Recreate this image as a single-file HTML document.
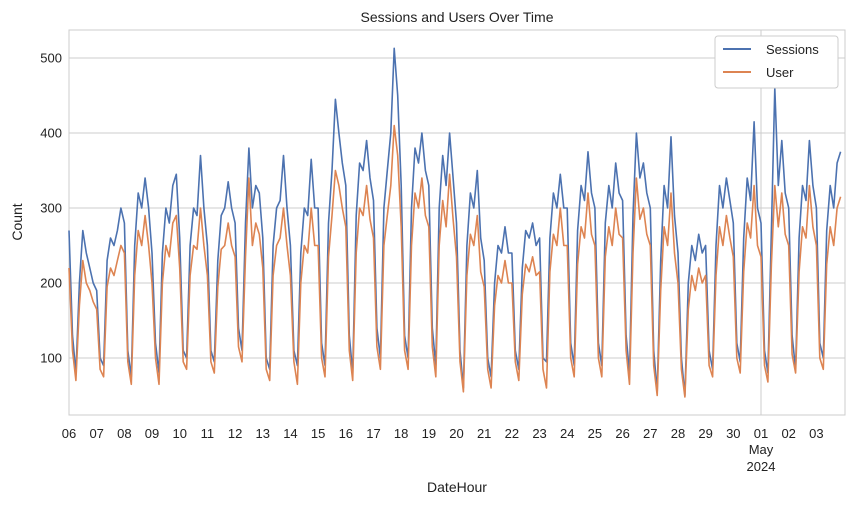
<!DOCTYPE html>
<html><head><meta charset="utf-8"><style>
body{margin:0;background:#fff;}
svg{font-family:"Liberation Sans","DejaVu Sans",sans-serif;}
</style></head><body>
<svg id="chart" width="854" height="505">
<rect x="69" y="30" width="776" height="385" fill="#fff" stroke="#cccccc"/>
<g id="grid"></g><g id="series"></g><g id="ticks"></g>
<text x="457" y="22" text-anchor="middle" font-size="14" fill="#222">Sessions and Users Over Time</text>
<text x="457" y="492" text-anchor="middle" font-size="14" fill="#222">DateHour</text>
<text transform="translate(22,222) rotate(-90)" text-anchor="middle" font-size="14" fill="#222">Count</text>
<g>
<rect x="715" y="36" width="123" height="52" rx="3" fill="#fff" stroke="#cccccc"/>
<line x1="723" y1="49" x2="751" y2="49" stroke="#4c72b0" stroke-width="2"/>
<text x="766" y="54" font-size="13" fill="#222">Sessions</text>
<line x1="723" y1="72" x2="751" y2="72" stroke="#dd8452" stroke-width="2"/>
<text x="766" y="77" font-size="13" fill="#222">User</text>
</g>
</svg>
<script>
const dayLabels=["06","07","08","09","10","11","12","13","14","15","16","17","18","19","20","21","22","23","24","25","26","27","28","29","30","01","02","03"];
const yTicks=[100,200,300,400,500];
const sessions=[
270,130,80,200,270,240,220,200, 190,100,90,230,260,250,270,300,
280,110,75,250,320,300,340,300, 240,120,80,240,300,280,330,345,
260,110,100,250,300,290,370,300, 250,110,95,230,290,300,335,300,
280,140,110,280,380,300,330,320, 260,100,85,250,300,310,370,300,
250,110,90,240,300,290,365,300, 300,120,90,280,350,445,400,360,
330,130,80,290,360,350,390,340, 310,140,100,300,350,400,513,450,
330,130,100,300,380,360,400,350, 330,140,90,300,370,330,400,340,
280,110,60,250,320,300,350,260, 230,100,75,200,250,240,275,240,
240,110,85,220,270,260,280,250, 260,100,95,260,320,300,345,300,
300,120,90,270,330,310,375,320, 300,120,90,280,330,300,360,320,
310,130,80,290,400,340,360,320, 300,110,55,230,330,300,395,290,
240,100,50,200,250,230,265,240, 250,110,85,250,330,300,340,310,
280,120,95,260,340,310,415,300, 280,110,80,270,460,330,390,320,
300,130,85,260,330,310,390,330, 300,120,100,270,330,300,360,375];
const users=[
220,110,70,170,230,200,190,175, 165,85,75,195,220,210,230,250,
240,95,65,210,270,250,290,250, 200,100,65,200,250,235,280,290,
220,95,85,210,250,245,300,250, 210,95,80,195,245,250,280,250,
235,115,95,235,340,250,280,265, 220,85,70,210,250,260,300,250,
210,95,65,200,250,240,300,250, 250,100,75,235,290,350,330,300,
275,110,70,240,300,290,330,285, 260,115,85,250,290,330,410,370,
275,110,85,250,320,300,340,290, 275,115,75,250,310,275,345,285,
235,95,55,210,265,250,290,215, 195,85,60,170,210,200,230,200,
200,95,70,185,225,215,235,210, 215,85,60,215,265,250,300,250,
250,100,75,225,275,260,320,265, 250,100,75,235,275,250,300,265,
260,110,65,240,340,285,300,265, 250,90,50,190,275,250,320,240,
200,85,48,165,210,190,220,200, 210,90,75,210,275,250,290,260,
235,100,80,215,280,260,330,250, 235,90,68,225,330,275,320,265,
250,105,80,215,275,260,330,275, 250,100,85,225,275,250,300,315];
const x0=69,dayW=27.68,stepH=3;
const X=h=>x0+h/24*dayW;
const Y=v=>358-(v-100)*0.75;
const ns="http://www.w3.org/2000/svg";
const grid=document.getElementById('grid'),ticks=document.getElementById('ticks'),ser=document.getElementById('series');
yTicks.forEach(v=>{
 const l=document.createElementNS(ns,'line');
 l.setAttribute('x1',69);l.setAttribute('x2',845);l.setAttribute('y1',Y(v));l.setAttribute('y2',Y(v));
 l.setAttribute('stroke','#cccccc');
 
 
 grid.appendChild(l);
 const t=document.createElementNS(ns,'text');
 t.setAttribute('x',62);t.setAttribute('y',Y(v)+4.5);t.setAttribute('text-anchor','end');t.setAttribute('font-size','13');t.setAttribute('fill','#222');
 t.textContent=v;
 
 
 ticks.appendChild(t);
});
dayLabels.forEach((d,i)=>{
 const x=X(i*24);
 const t=document.createElementNS(ns,'text');
 t.setAttribute('x',x);t.setAttribute('y',438);t.setAttribute('text-anchor','middle');t.setAttribute('font-size','13');t.setAttribute('fill','#222');
 t.textContent=d;
 
 
 ticks.appendChild(t);
 if(d==="01"){
  const l=document.createElementNS(ns,'line');
  l.setAttribute('x1',x);l.setAttribute('x2',x);l.setAttribute('y1',30);l.setAttribute('y2',415);l.setAttribute('stroke','#cccccc');
  
  
  grid.appendChild(l);
  [["May",454],["2024",471]].forEach(([s,yy])=>{
   const m=document.createElementNS(ns,'text');
   m.setAttribute('x',x);m.setAttribute('y',yy);m.setAttribute('text-anchor','middle');m.setAttribute('font-size','13');m.setAttribute('fill','#222');
   m.textContent=s;
   
   
   ticks.appendChild(m);
  });
 }
});
function line(vals,color,name){
 const p=document.createElementNS(ns,'polyline');
 p.setAttribute('points',vals.map((v,i)=>X(i*stepH).toFixed(1)+','+Y(v).toFixed(1)).join(' '));
 p.setAttribute('fill','none');p.setAttribute('stroke',color);p.setAttribute('stroke-width','1.6');p.setAttribute('stroke-linejoin','round');
 
 
 ser.appendChild(p);
}
line(sessions,'#4c72b0','sessions-line');
line(users,'#dd8452','user-line');
</script>
</body></html>
